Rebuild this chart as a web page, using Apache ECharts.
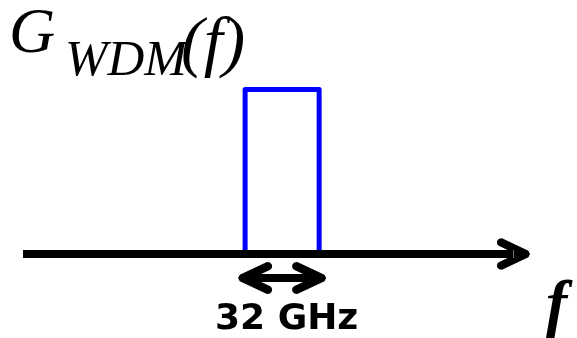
<!DOCTYPE html>
<html>
<head>
<meta charset="utf-8">
<script src="https://cdn.jsdelivr.net/npm/echarts@6/dist/echarts.min.js"></script>
<style>
html,body{margin:0;padding:0;background:#fff;}
#chart{width:577px;height:338px;}
</style>
</head>
<body>
<div id="chart"></div>
<script>
// ---- data ----
const freqGHz = [-16, -16, 16, 16];       // spectrum corner frequencies (GHz, relative to carrier)
const psdLevel = [0, 1, 1, 0];            // normalised PSD at those frequencies
const bandEdges = [-16, 16];              // bandwidth arrow end points (GHz)
const bandLabel = '32 GHz';
const yLabelMain = 'G';
const yLabelSub = 'WDM';
const yLabelArg = '(f)';
const xLabel = 'f';

// ---- layout / style constants ----
const ARROW_Y = -0.146;   // vertical level (in y units) of the bandwidth arrow
const chevron = 'path://M16,0 L19.2,1.6 L31.7,27.8 L31.2,30.8 L28.8,32.8 L25.8,32.6 L24.2,31 L20,22.3 L20,16 L12,16 L12,22.3 L7.8,31 L6.2,32.6 L3.2,32.8 L0.8,30.8 L0.3,27.8 L12.8,1.6 Z';

const spectrum = freqGHz.map((f, i) => [f, psdLevel[i]]);

const chart = echarts.init(document.getElementById('chart'), null, {renderer: 'canvas'});
chart.setOption({
  animation: false,
  backgroundColor: '#ffffff',
  grid: {left: 23, right: 63.5, top: 89.5, bottom: 1.75, containLabel: false},
  xAxis: {
    type: 'value', min: -112, max: 100, z: 5,
    axisLine: {show: true, onZero: true,
      lineStyle: {color: '#000000', width: 8, cap: 'butt'},
      symbol: ['none', chevron], symbolSize: [32, 33]},
    axisTick: {show: false}, axisLabel: {show: false}, splitLine: {show: false}
  },
  yAxis: {
    type: 'value', min: -0.5, max: 1, show: false,
    splitLine: {show: false}
  },
  series: [{
    type: 'line',
    data: spectrum,
    z: 1,
    clip: false,
    symbol: 'none',
    lineStyle: {color: '#0000ff', width: 5, join: 'round'},
    silent: true,
    markLine: {
      silent: true,
      symbol: [chevron, chevron],
      symbolSize: [32, 34],
      symbolOffset: [[0, 10], [0, 10]],
      label: {show: false},
      lineStyle: {color: '#000000', width: 8, type: 'solid', cap: 'butt'},
      emphasis: {disabled: true},
      data: [[{coord: [bandEdges[0], ARROW_Y]}, {coord: [bandEdges[1], ARROW_Y]}]]
    }
  }],
  graphic: [
    {type: 'text', left: 9, top: 3, silent: true,
      style: {text: yLabelMain, font: 'italic 64px "Liberation Serif"', fill: '#000'}},
    {type: 'text', left: 65, top: 36, silent: true,
      style: {text: yLabelSub, font: 'italic 51px "Liberation Serif"', fill: '#000'}},
    {type: 'text', left: 181, top: 12, silent: true,
      style: {text: yLabelArg, font: 'italic 68px "Liberation Serif"', fill: '#000'}},
    {type: 'text', left: 215, top: 302, silent: true,
      style: {text: bandLabel, font: 'bold 36px "DejaVu Sans"', fill: '#000'}},
    {type: 'text', left: 546, top: 275, silent: true,
      style: {text: xLabel, font: 'italic bold 64px "Liberation Serif"', fill: '#000'}}
  ]
});
</script>
</body>
</html>
